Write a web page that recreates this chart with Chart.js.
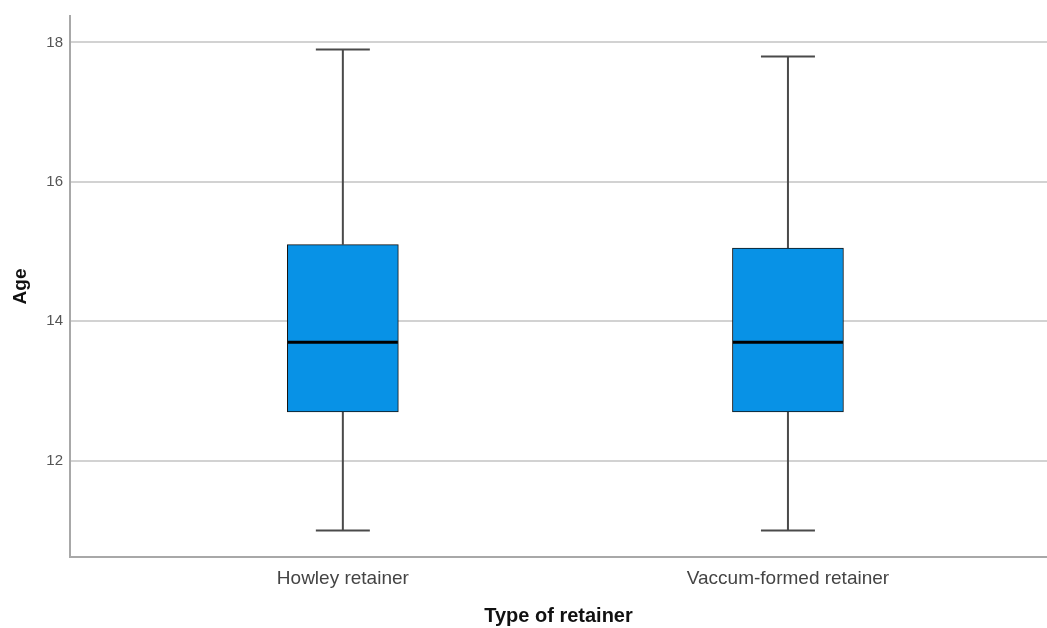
<!DOCTYPE html>
<html>
<head>
<meta charset="utf-8">
<script src="https://cdn.jsdelivr.net/npm/chart.js@4/dist/chart.umd.min.js"></script>
<style>
  html, body { margin: 0; padding: 0; background: #fff; }
</style>
</head>
<body>
<canvas id="boxChart" width="1047" height="628"></canvas>
<script>
// Box plot values
const categories = ['Howley retainer', 'Vaccum-formed retainer'];
const positions = [1, 2];
const minValues = [11.0, 11.0];
const q1Values = [12.7, 12.7];
const medianValues = [13.7, 13.7];
const q3Values = [15.1, 15.05];
const maxValues = [17.9, 17.8];
const yTickValues = [12, 14, 16, 18];

const boxColor = '#0892e6';
const whiskerColor = '#4a4a4a';

// whiskers + caps behind the boxes, medians on top
const boxExtras = {
    id: 'boxExtras',
    beforeDatasetsDraw(chart) {
        const {ctx, scales: {x, y}} = chart;
        ctx.save();
        ctx.strokeStyle = whiskerColor;
        ctx.lineWidth = 2;
        positions.forEach((p, i) => {
            const px = x.getPixelForValue(p);
            const capHalf = 27;
            const yMin = y.getPixelForValue(minValues[i]);
            const yMax = y.getPixelForValue(maxValues[i]);
            const yQ1 = y.getPixelForValue(q1Values[i]);
            const yQ3 = y.getPixelForValue(q3Values[i]);
            ctx.beginPath();
            ctx.moveTo(px, yMax); ctx.lineTo(px, yQ3);
            ctx.moveTo(px, yQ1); ctx.lineTo(px, yMin);
            ctx.moveTo(px - capHalf, yMax); ctx.lineTo(px + capHalf, yMax);
            ctx.moveTo(px - capHalf, yMin); ctx.lineTo(px + capHalf, yMin);
            ctx.stroke();
        });
        ctx.restore();
    },
    afterDatasetsDraw(chart) {
        const {ctx, scales: {x, y}} = chart;
        ctx.save();
        ctx.strokeStyle = '#000';
        ctx.lineWidth = 3;
        positions.forEach((p, i) => {
            const px = x.getPixelForValue(p);
            const ym = y.getPixelForValue(medianValues[i]);
            ctx.beginPath();
            ctx.moveTo(px - 55, ym);
            ctx.lineTo(px + 55, ym);
            ctx.stroke();
        });
        ctx.restore();
    }
};

const ctx = document.getElementById('boxChart').getContext('2d');
new Chart(ctx, {
    type: 'bar',
    data: {
        datasets: [{
            label: 'Age',
            data: positions.map((p, i) => ({x: p, y: [q1Values[i], q3Values[i]]})),
            backgroundColor: boxColor,
            borderColor: '#111',
            borderWidth: 1,
            borderSkipped: false,
            barThickness: 111
        }]
    },
    options: {
        responsive: false,
        animation: false,
        layout: { padding: { top: 16, right: 0, bottom: 0, left: 0 } },
        plugins: {
            legend: { display: false },
            tooltip: { enabled: false }
        },
        scales: {
            x: {
                type: 'linear',
                offset: false,
                min: 0.387,
                max: 2.582,
                afterBuildTicks: (scale) => {
                    scale.ticks = positions.map(v => ({value: v}));
                },
                afterFit: (scale) => {
                    scale.height = 71;
                    scale.paddingLeft = 0;
                    scale.paddingRight = 0;
                },
                ticks: {
                    callback: (value) => categories[positions.indexOf(value)] || '',
                    font: { family: "'Liberation Sans', Arial, sans-serif", size: 19 },
                    color: '#444',
                    padding: 10,
                    maxRotation: 0
                },
                grid: { display: false, drawTicks: false },
                border: { display: true, color: '#a8a8a8', width: 2 },
                title: {
                    display: true,
                    text: 'Type of retainer',
                    font: { family: "'Liberation Sans', Arial, sans-serif", size: 20, weight: 'bold' },
                    color: '#111',
                    padding: { top: 4, bottom: 0 }
                }
            },
            y: {
                min: 10.618,
                max: 18.38,
                afterBuildTicks: (scale) => {
                    scale.ticks = yTickValues.map(v => ({value: v}));
                },
                afterFit: (scale) => {
                    scale.width = 70;
                    scale.paddingTop = 0;
                    scale.paddingBottom = 0;
                },
                ticks: {
                    font: { family: "'Liberation Sans', Arial, sans-serif", size: 15 },
                    color: '#555',
                    padding: 7
                },
                grid: { color: '#d2d2d2', lineWidth: 2, drawTicks: false },
                border: { display: true, color: '#a8a8a8', width: 2 },
                title: {
                    display: true,
                    text: 'Age',
                    font: { family: "'Liberation Sans', Arial, sans-serif", size: 19, weight: 'bold' },
                    color: '#111',
                    padding: { top: 9, bottom: 0 }
                }
            }
        }
    },
    plugins: [boxExtras]
});
</script>
</body>
</html>
